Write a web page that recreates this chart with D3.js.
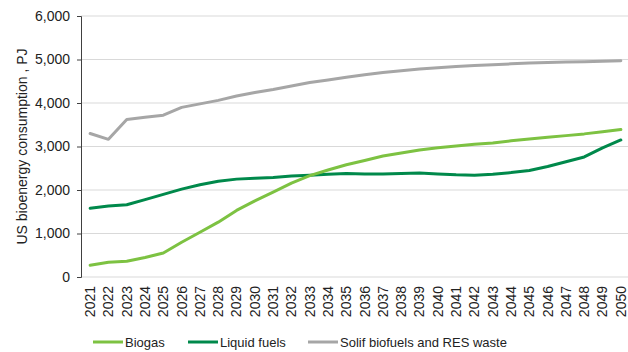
<!DOCTYPE html>
<html><head><meta charset="utf-8">
<script src="https://cdn.jsdelivr.net/npm/d3@7"></script>
<style>body{margin:0;background:#fff}svg{display:block}text{font-family:"Liberation Sans",Arial,sans-serif;fill:#222}</style>
</head><body><svg id="c" width="628" height="352"></svg>
<script>
const years = d3.range(2021, 2051).map(String);
const biogas = [270,340,360,450,550,800,1030,1260,1530,1750,1950,2160,2330,2460,2580,2680,2780,2850,2920,2970,3010,3050,3080,3130,3170,3210,3250,3290,3340,3390];
const liquid = [1580,1630,1660,1780,1900,2020,2120,2200,2250,2270,2290,2320,2340,2360,2380,2370,2370,2380,2390,2370,2350,2340,2360,2400,2450,2540,2650,2760,2970,3150];
const solid = [3300,3165,3620,3670,3720,3900,3980,4060,4160,4240,4310,4390,4470,4530,4590,4650,4700,4740,4780,4810,4840,4860,4880,4900,4920,4930,4940,4950,4960,4970];
const yTicks = [0,1000,2000,3000,4000,5000,6000];
const series = [
  {name:"Biogas", values:biogas, color:"#7dc242"},
  {name:"Liquid fuels", values:liquid, color:"#00894b"},
  {name:"Solif biofuels and RES waste", values:solid, color:"#a6a6a6"}
];
const svg = d3.select("#c");
const L=81, R=630, T=16, B=277;
const x = d3.scaleBand().domain(years).range([L,R]);
const y = d3.scaleLinear().domain([0,6000]).range([B,T]);
// grid
svg.append("g").selectAll("line").data(yTicks).join("line")
  .attr("x1",L).attr("x2",628).attr("y1",d=>y(d)).attr("y2",d=>y(d))
  .attr("stroke","#d9d9d9").attr("stroke-width",1);
// y axis
const ya = svg.append("g").attr("transform",`translate(${L},0)`)
  .call(d3.axisLeft(y).tickValues(yTicks).tickFormat(d3.format(",")).tickSize(4).tickPadding(7));
ya.select(".domain").attr("stroke","#404040");
ya.selectAll(".tick line").attr("stroke","#404040");
ya.selectAll("text").style("font-size","14px").attr("fill","#222");
// x axis
const xa = svg.append("g").attr("transform",`translate(0,${B})`)
  .call(d3.axisBottom(x).tickSize(0).tickPadding(0));
xa.select(".domain").remove();
xa.selectAll("text").style("font-size","14px").attr("fill","#222")
  .attr("transform","rotate(-90)").attr("text-anchor","end")
  .attr("x",-9).attr("y",0).attr("dy","0.35em");
// y title
svg.append("text").attr("transform",`translate(22,${(T+B)/2}) rotate(-90)`)
  .attr("text-anchor","middle").attr("dy","0.35em").style("font-size","14px")
  .text("US bioenergy consumption , PJ");
// lines
const line = d3.line().x((d,i)=>x(years[i])+x.bandwidth()/2).y(d=>y(d));
svg.append("g").selectAll("path").data(series.slice().reverse()).join("path")
  .attr("d",d=>line(d.values)).attr("fill","none").attr("stroke",d=>d.color)
  .attr("stroke-width",3).attr("stroke-linejoin","round").attr("stroke-linecap","round");
// legend
const legX=[93,188,308];
const lg = svg.append("g").selectAll("g").data(series).join("g")
  .attr("transform",(d,i)=>`translate(${legX[i]},342)`);
lg.append("line").attr("x1",0).attr("x2",30).attr("stroke",d=>d.color).attr("stroke-width",3);
lg.append("text").attr("x",32).attr("dy","0.35em").style("font-size","13px").text(d=>d.name);
</script></body></html>
